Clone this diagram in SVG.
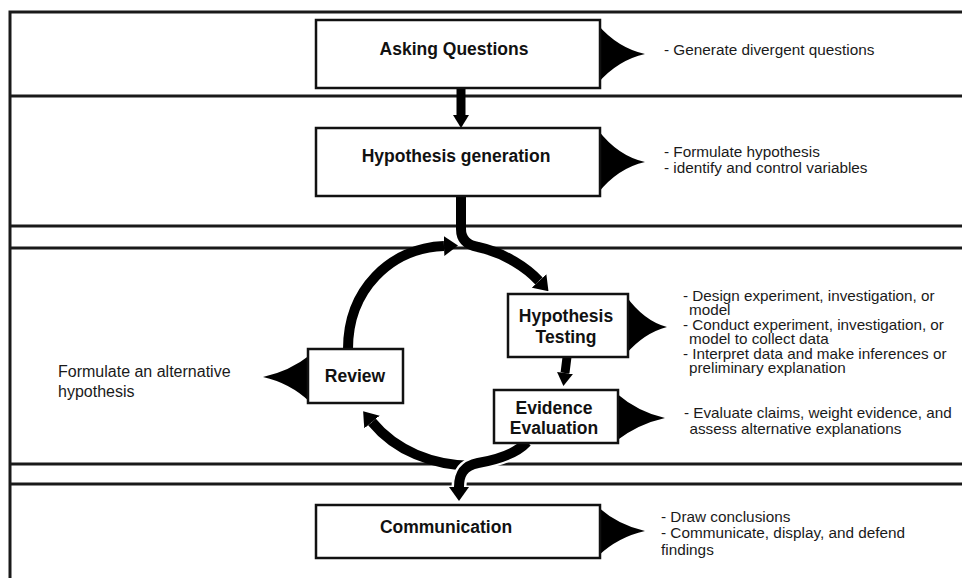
<svg xmlns="http://www.w3.org/2000/svg" width="962" height="578" viewBox="0 0 962 578">
<style>
.frame{stroke:#1a1a1a;stroke-width:3;fill:none}
.box{fill:#fff;stroke:#111;stroke-width:2.5}
.title{font-family:"Liberation Sans",Arial,sans-serif;font-weight:bold;font-size:17.5px;fill:#111;text-anchor:middle}
.note{font-family:"Liberation Sans",Arial,sans-serif;font-size:14px;fill:#1a1a1a}
.alt{font-family:"Liberation Sans",Arial,sans-serif;font-size:16px;fill:#1a1a1a}
.callout{fill:#000}
.arrow{fill:none;stroke:#000;stroke-width:10}
.halo{fill:none;stroke:#fff;stroke-width:16}
</style>
<defs>
<marker id="headS" markerUnits="userSpaceOnUse" markerWidth="13" markerHeight="16" viewBox="0 0 13 16" refX="0" refY="8" orient="auto"><path d="M0,0 L13,8 L0,16 Z" fill="#000"/></marker>
<marker id="headL" markerUnits="userSpaceOnUse" markerWidth="14" markerHeight="20" viewBox="0 0 14 20" refX="0" refY="10" orient="auto"><path d="M0,0 L14,10 L0,20 Z" fill="#000"/></marker>
</defs>
<rect width="962" height="578" fill="#fff"/>
<g id="frame">
<path class="frame" d="M10,578 V12 H962"/>
<path class="frame" d="M10,96 H962 M10,226 H962 M10,248 H962 M10,464 H962 M10,484 H962"/>
</g>
<g id="connectors">
<path class="arrow" d="M461,88 V115" style="stroke-width:9" marker-end="url(#headS)"/>
<path class="arrow" d="M461,196 V229 Q461,244 478,247 C505,253 527,268 539,281" marker-end="url(#headL)"/>
<path class="arrow" d="M348,349 C348,290 390,248 444,246" marker-end="url(#headL)"/>
<path class="arrow" d="M567,357 L565,373" style="stroke-width:9" marker-end="url(#headS)"/>
<path class="arrow" d="M475,466 C432,466 395,450 372,422" marker-end="url(#headL)"/>
<path class="halo" d="M525,443 C513,455 495,460 478,463 C463,466 459,475 459,487" style="stroke-width:15"/>
<path class="arrow" d="M527,442 C515,455 495,460 478,463 C463,466 459,475 459,487" marker-end="url(#headL)"/>
</g>
<g id="asking">
<path class="callout" d="M598,25 Q618,48 645,54 Q618,60 598,83 Z"/>
<rect class="box" x="316" y="20" width="284" height="68"/>
<text class="title" x="454" y="55">Asking Questions</text>
<g transform="matrix(1.095,0,0,1,-63.08,0)">
<text class="note" x="664" y="55">- Generate divergent questions</text>
</g>
</g>
<g id="generation">
<path class="callout" d="M598,130 Q618,156 645,162 Q618,168 598,193 Z"/>
<rect class="box" x="316" y="128" width="284" height="68"/>
<text class="title" x="456" y="162">Hypothesis generation</text>
<g transform="matrix(1.095,0,0,1,-63.08,0)">
<text class="note" x="664" y="157">- Formulate hypothesis</text>
<text class="note" x="664" y="173">- identify and control variables</text>
</g>
</g>
<g id="testing">
<path class="callout" d="M626,296 Q644,321 667,327 Q644,333 626,354 Z"/>
<rect class="box" x="508" y="294" width="120" height="63"/>
<text class="title" x="566" y="322">Hypothesis</text>
<text class="title" x="566" y="343">Testing</text>
<g transform="matrix(1.09,0,0,1,-61.47,0)">
<text class="note" x="683" y="301">- Design experiment, investigation, or</text>
<text class="note" x="688.5" y="315.5">model</text>
<text class="note" x="683" y="330">- Conduct experiment, investigation, or</text>
<text class="note" x="688.5" y="344.5">model to collect data</text>
<text class="note" x="683" y="359">- Interpret data and make inferences or</text>
<text class="note" x="688.5" y="373.5">preliminary explanation</text>
</g>
</g>
<g id="evidence">
<path class="callout" d="M616,393 Q638,412 665,418 Q638,424 616,441 Z"/>
<rect class="box" x="494" y="390" width="124" height="53"/>
<text class="title" x="554" y="414">Evidence</text>
<text class="title" x="554" y="434">Evaluation</text>
<g transform="matrix(1.09,0,0,1,-61.56,0)">
<text class="note" x="684" y="418">- Evaluate claims, weight evidence, and</text>
<text class="note" x="689" y="434">assess alternative explanations</text>
</g>
</g>
<g id="review">
<path class="callout" d="M310,355 Q290,371 263,377 Q290,383 310,402 Z"/>
<rect class="box" x="308" y="349" width="95" height="54"/>
<text class="title" x="355" y="382">Review</text>
<text class="alt" x="58" y="377">Formulate an alternative</text>
<text class="alt" x="58" y="397">hypothesis</text>
</g>
<g id="communication">
<path class="callout" d="M598,507 Q618,525 645,531 Q618,537 598,556 Z"/>
<rect class="box" x="316" y="505" width="284" height="53"/>
<text class="title" x="446" y="533">Communication</text>
<g transform="matrix(1.095,0,0,1,-62.8,0)">
<text class="note" x="661" y="522">- Draw conclusions</text>
<text class="note" x="661" y="538">- Communicate, display, and defend</text>
<text class="note" x="661" y="555">findings</text>
</g>
</g>
</svg>
